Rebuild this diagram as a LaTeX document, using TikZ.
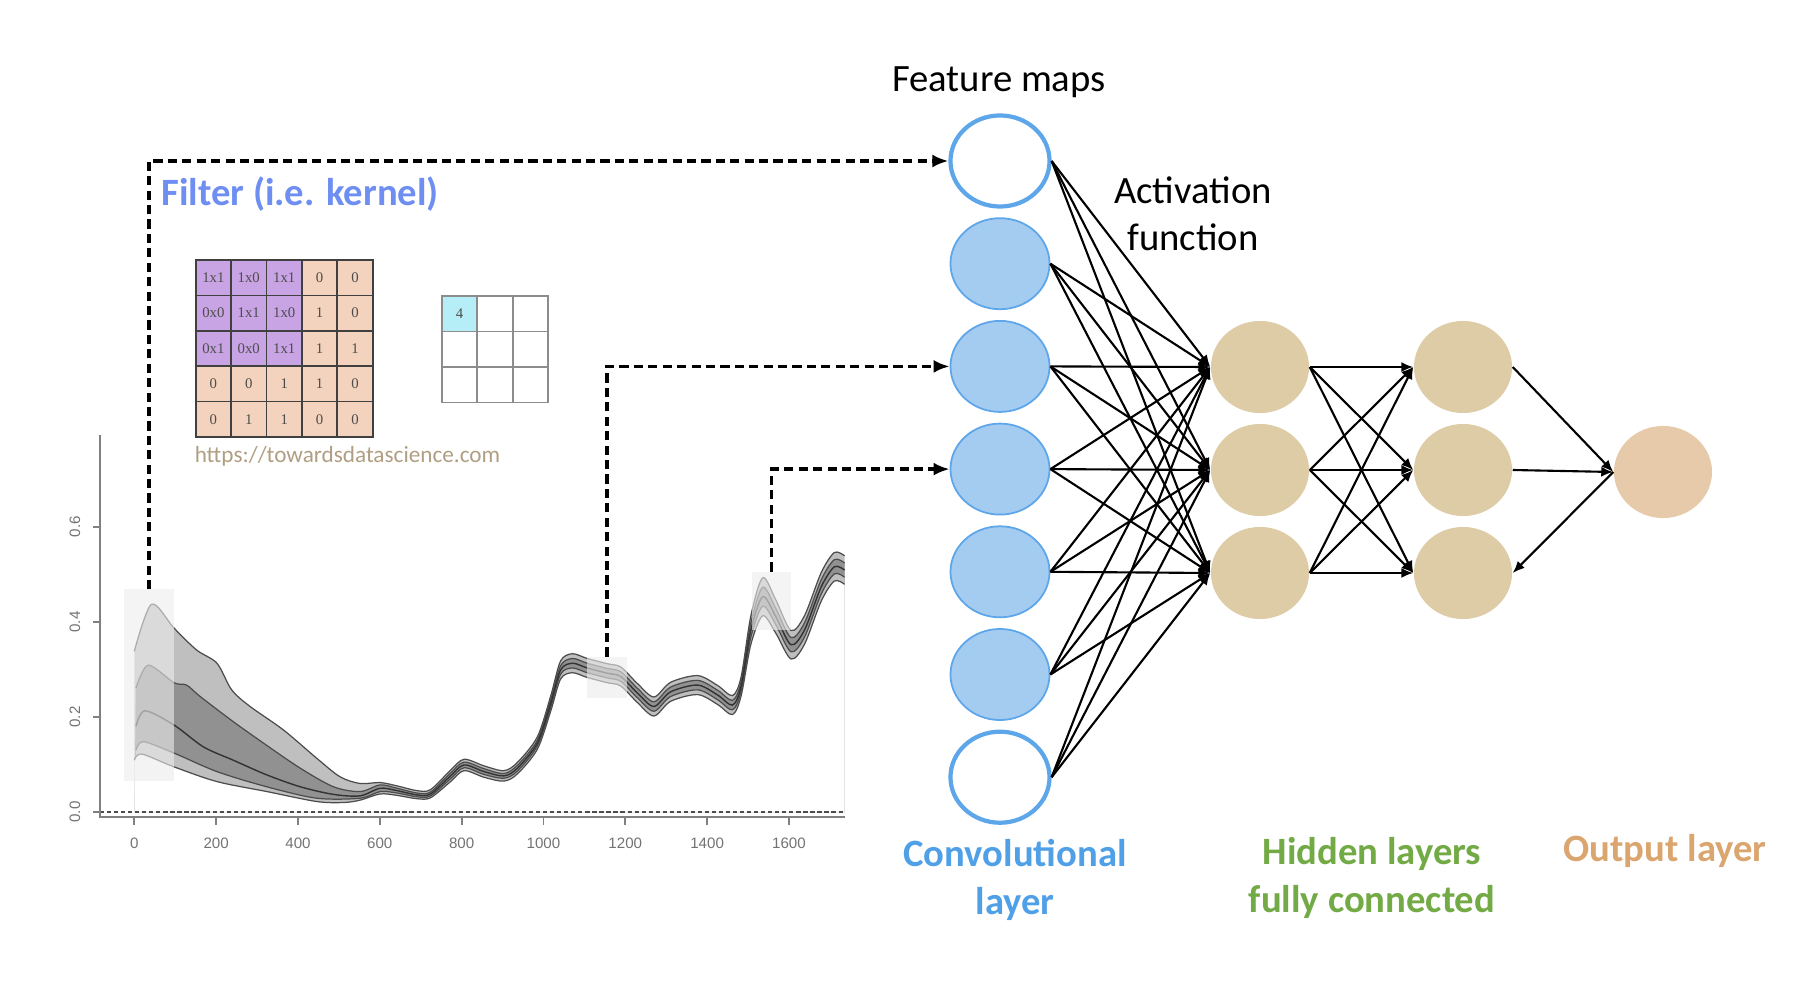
\documentclass[tikz,border=0pt]{standalone}
\usepackage{fontspec}
\setmainfont{Carlito}
\newfontfamily\cellfont{Liberation Serif}
\newfontfamily\axisfont{Liberation Sans}
\usetikzlibrary{arrows.meta,shapes.geometric}
\definecolor{convblue}{RGB}{164,203,240}
\definecolor{convedge}{RGB}{93,166,234}
\definecolor{hidtan}{RGB}{221,204,166}
\definecolor{outtan}{RGB}{230,202,170}
\definecolor{filterblue}{RGB}{110,142,242}
\definecolor{convtext}{RGB}{80,160,232}
\definecolor{hidgreen}{RGB}{114,170,69}
\definecolor{outorange}{RGB}{218,165,110}
\definecolor{urlbrown}{RGB}{176,158,130}
\definecolor{kpurple}{RGB}{200,164,228}
\definecolor{kpeach}{RGB}{243,211,189}
\definecolor{kcyan}{RGB}{182,238,248}
\def\band#1#2{\fill[#1] (0,0) -- plot[smooth] coordinates {#2} -- (1736,0) -- cycle;
	\draw[bandline] plot[smooth] coordinates {#2};}
\def\cell(#1,#2)#3#4{\node[cellbox,fill=#3] at (#1,#2) {#4};}

\begin{document}
\begin{tikzpicture}[x=0.01cm,y=-0.01cm,
	fmap/.style={ellipse,draw=convedge,line width=1.2pt,fill=white,minimum width=9.9mm,minimum height=9.1mm,inner sep=0},
	conv/.style={fmap,line width=0.5pt,fill=convblue},
	hid/.style={ellipse,fill=hidtan,minimum width=9.8mm,minimum height=9.2mm,inner sep=0},
	outn/.style={hid,fill=outtan},
	link/.style={-{Latex[length=1.2mm,width=1mm]},line width=0.6pt},
	feed/.style={-{Latex[length=1.6mm,width=1.3mm]},line width=1pt,dash pattern=on 2.6pt off 1.5pt},
	bandline/.style={draw=black!70,line width=0.35pt},
	window/.style={fill=gray!15,fill opacity=0.6},
	axisline/.style={draw=black!50,line width=0.5pt},
	ticklab/.style={font=\axisfont\fontsize{4.3}{5}\selectfont,text=black!55},
	cellbox/.style={draw=black!75,line width=0.5pt,minimum size=3.54mm,inner sep=0,font=\cellfont\fontsize{4.2}{5}\selectfont,text=black!70},
	outcell/.style={cellbox,draw=black!45},
	toptext/.style={font=\fontsize{11}{13.4}\selectfont,align=center}]
	%%%%% START %%%%%
	\useasboundingbox (0,0) rectangle (1794,994);
	
	% spectra
	\begin{scope}[shift={(134.3,812)},x=0.004085cm,y=4.75cm]
		\band{black!25}{(0,0.338) (42,0.437) (97,0.387) (152,0.341) (202,0.313) (238,0.257) (283,0.222) (364,0.173) (446,0.113) (503,0.074) (552,0.060) (601,0.062) (642,0.055) (691,0.045) (724,0.047) (773,0.088) (806,0.111) (855,0.097) (903,0.087) (936,0.104) (985,0.158) (1018,0.245) (1042,0.318) (1071,0.333) (1107,0.323) (1156,0.312) (1189,0.305) (1230,0.27) (1270,0.242) (1311,0.273) (1377,0.287) (1426,0.266) (1462,0.245) (1483,0.284) (1507,0.413) (1536,0.493) (1568,0.446) (1605,0.382) (1638,0.413) (1679,0.504) (1711,0.546) (1736,0.539)}
		\band{black!43}{(4,0.261) (34,0.309) (97,0.272) (128,0.267) (161,0.243) (242,0.19) (324,0.14) (406,0.092) (487,0.053) (552,0.043) (601,0.057) (642,0.05) (691,0.04) (724,0.042) (773,0.082) (806,0.105) (855,0.091) (903,0.081) (936,0.098) (985,0.151) (1018,0.237) (1042,0.308) (1071,0.323) (1107,0.313) (1156,0.302) (1189,0.295) (1230,0.26) (1270,0.232) (1311,0.263) (1377,0.277) (1426,0.256) (1462,0.235) (1483,0.274) (1507,0.398) (1536,0.473) (1568,0.428) (1605,0.367) (1638,0.398) (1679,0.489) (1711,0.531) (1736,0.524)}
		\band{black!25}{(4,0.13) (22,0.148) (97,0.124) (202,0.085) (324,0.053) (446,0.029) (552,0.029) (601,0.043) (642,0.04) (691,0.032) (724,0.034) (773,0.07) (806,0.093) (855,0.079) (903,0.071) (936,0.086) (985,0.139) (1018,0.221) (1042,0.29) (1071,0.303) (1107,0.293) (1156,0.282) (1189,0.275) (1230,0.24) (1270,0.212) (1311,0.243) (1377,0.257) (1426,0.236) (1462,0.215) (1483,0.254) (1507,0.368) (1536,0.433) (1568,0.394) (1605,0.337) (1638,0.368) (1679,0.459) (1711,0.501) (1736,0.494)}
		\band{white}{(0,0.109) (18,0.122) (97,0.095) (202,0.064) (324,0.043) (446,0.022) (512,0.02) (552,0.025) (601,0.038) (642,0.035) (691,0.028) (724,0.03) (773,0.064) (806,0.087) (855,0.073) (903,0.065) (936,0.08) (985,0.132) (1018,0.213) (1042,0.28) (1071,0.293) (1107,0.283) (1156,0.272) (1189,0.265) (1230,0.23) (1270,0.202) (1311,0.233) (1377,0.247) (1426,0.226) (1462,0.205) (1483,0.244) (1507,0.353) (1536,0.413) (1568,0.376) (1605,0.322) (1638,0.353) (1679,0.444) (1711,0.486) (1736,0.479)}
		\draw[black!80,line width=0.4pt] plot[smooth] coordinates {(4,0.18) (26,0.213) (97,0.183) (169,0.137) (242,0.109) (324,0.078) (406,0.053) (487,0.037) (552,0.034) (601,0.05) (642,0.045) (691,0.036) (724,0.038) (773,0.076) (806,0.099) (855,0.085) (903,0.076) (936,0.092) (985,0.145) (1018,0.229) (1042,0.299) (1071,0.313) (1107,0.303) (1156,0.292) (1189,0.285) (1230,0.25) (1270,0.222) (1311,0.253) (1377,0.267) (1426,0.246) (1462,0.225) (1483,0.264) (1507,0.383) (1536,0.453) (1568,0.411) (1605,0.352) (1638,0.383) (1679,0.474) (1711,0.516) (1736,0.509)};
		
		\fill[window] (-25,0.065) rectangle (97,0.469);
		\fill[window] (1106,0.239) rectangle (1204,0.327);
		\fill[window] (1509,0.383) rectangle (1605,0.506);
		\coordinate (win1) at (36,0.469);
		\coordinate (win2) at (1155,0.327);
		\coordinate (win3) at (1557,0.506);
		
		\draw[black!70,line width=0.4pt,dash pattern=on 1.2pt off 0.8pt] (-101,0) -- (1736,0);
		\draw[axisline] (-84,0.794) -- (-84,-0.0105) -- (1736,-0.0105);
		\draw[axisline] (-84,0) -- (-101,0) (-84,0.2) -- (-101,0.2) (-84,0.4) -- (-101,0.4) (-84,0.6) -- (-101,0.6);
		\draw[axisline] (0,-0.0105) -- (0,-0.027) (200,-0.0105) -- (200,-0.027) (400,-0.0105) -- (400,-0.027) (600,-0.0105) -- (600,-0.027) (800,-0.0105) -- (800,-0.027) (1000,-0.0105) -- (1000,-0.027) (1200,-0.0105) -- (1200,-0.027) (1400,-0.0105) -- (1400,-0.027) (1600,-0.0105) -- (1600,-0.027);
		\node[ticklab,rotate=90] at (-145,0) {0.0};
		\node[ticklab,rotate=90] at (-145,0.2) {0.2};
		\node[ticklab,rotate=90] at (-145,0.4) {0.4};
		\node[ticklab,rotate=90] at (-145,0.6) {0.6};
		\node[ticklab] at (0,-0.065) {0};
		\node[ticklab] at (200,-0.065) {200};
		\node[ticklab] at (400,-0.065) {400};
		\node[ticklab] at (600,-0.065) {600};
		\node[ticklab] at (800,-0.065) {800};
		\node[ticklab] at (1000,-0.065) {1000};
		\node[ticklab] at (1200,-0.065) {1200};
		\node[ticklab] at (1400,-0.065) {1400};
		\node[ticklab] at (1600,-0.065) {1600};
	\end{scope}
	
	% kernel
	\cell(213.4,277.7){kpurple}{1x1} \cell(248.8,277.7){kpurple}{1x0} \cell(284.2,277.7){kpurple}{1x1} \cell(319.6,277.7){kpeach}{0} \cell(355,277.7){kpeach}{0}
	\cell(213.4,313.1){kpurple}{0x0} \cell(248.8,313.1){kpurple}{1x1} \cell(284.2,313.1){kpurple}{1x0} \cell(319.6,313.1){kpeach}{1} \cell(355,313.1){kpeach}{0}
	\cell(213.4,348.5){kpurple}{0x1} \cell(248.8,348.5){kpurple}{0x0} \cell(284.2,348.5){kpurple}{1x1} \cell(319.6,348.5){kpeach}{1} \cell(355,348.5){kpeach}{1}
	\cell(213.4,383.9){kpeach}{0} \cell(248.8,383.9){kpeach}{0} \cell(284.2,383.9){kpeach}{1} \cell(319.6,383.9){kpeach}{1} \cell(355,383.9){kpeach}{0}
	\cell(213.4,419.3){kpeach}{0} \cell(248.8,419.3){kpeach}{1} \cell(284.2,419.3){kpeach}{1} \cell(319.6,419.3){kpeach}{0} \cell(355,419.3){kpeach}{0}
	
	\node[outcell,fill=kcyan] at (459.5,313.8) {4};
	\node[outcell] at (495,313.8) {}; \node[outcell] at (530.5,313.8) {};
	\node[outcell] at (459.5,349.3) {}; \node[outcell] at (495,349.3) {}; \node[outcell] at (530.5,349.3) {};
	\node[outcell] at (459.5,384.8) {}; \node[outcell] at (495,384.8) {}; \node[outcell] at (530.5,384.8) {};
	
	\node[font=\fontsize{6.6}{8}\selectfont,text=urlbrown] (url) at (347.5,456) {https://towardsdatascience.com};
	\node[font=\bfseries\fontsize{11}{13}\selectfont,text=filterblue,anchor=west] (filter) at (149,194) {Filter (i.e. kernel)};
	
	% network
	\node[fmap] (c1) at (1000,161) {};
	\node[conv] (c2) at (1000,263.7) {};
	\node[conv] (c3) at (1000,366.4) {};
	\node[conv] (c4) at (1000,469.1) {};
	\node[conv] (c5) at (1000,571.8) {};
	\node[conv] (c6) at (1000,674.5) {};
	\node[fmap] (c7) at (1000,777.2) {};
	
	\node[hid] (ha1) at (1260,367) {};
	\node[hid] (ha2) at (1260,470) {};
	\node[hid] (ha3) at (1260,573) {};
	\node[hid] (hb1) at (1463,367) {};
	\node[hid] (hb2) at (1463,470) {};
	\node[hid] (hb3) at (1463,573) {};
	\node[outn] (out) at (1663,472) {};
	
	\path[link] (c1.east) edge (ha1.west) edge (ha2.west) edge (ha3.west);
	\path[link] (c2.east) edge (ha1.west) edge (ha2.west) edge (ha3.west);
	\path[link] (c3.east) edge (ha1.west) edge (ha2.west) edge (ha3.west);
	\path[link] (c4.east) edge (ha1.west) edge (ha2.west) edge (ha3.west);
	\path[link] (c5.east) edge (ha1.west) edge (ha2.west) edge (ha3.west);
	\path[link] (c6.east) edge (ha1.west) edge (ha2.west) edge (ha3.west);
	\path[link] (c7.east) edge (ha1.west) edge (ha2.west) edge (ha3.west);
	\path[link] (ha1.east) edge (hb1.west) edge (hb2.west) edge (hb3.west);
	\path[link] (ha2.east) edge (hb1.west) edge (hb2.west) edge (hb3.west);
	\path[link] (ha3.east) edge (hb1.west) edge (hb2.west) edge (hb3.west);
	\path[link] (hb1.east) edge (out.west) (hb2.east) edge (out.west) (out.west) edge (hb3.east);
	
	\draw[feed] (win1) |- (c1.west);
	\draw[feed] (win2) |- (c3.west);
	\draw[feed] (win3) |- (c4.west);
	
	% labels
	\node[toptext] (fmaps) at (999,82) {Feature maps};
	\node[toptext] (act) at (1193,214) {Activation\\function};
	\node[toptext,font=\bfseries\fontsize{11}{13.7}\selectfont,text=convtext] (convlab) at (1015,880) {Convolutional\\layer};
	\node[toptext,font=\bfseries\fontsize{11}{13.4}\selectfont,text=hidgreen] (hidlab) at (1372,878) {Hidden layers\\fully connected};
	\node[toptext,font=\bfseries\fontsize{11}{13.4}\selectfont,text=outorange] (outlab) at (1665,851) {Output layer};
	
	%%%%% END %%%%%
\end{tikzpicture}
\end{document}
